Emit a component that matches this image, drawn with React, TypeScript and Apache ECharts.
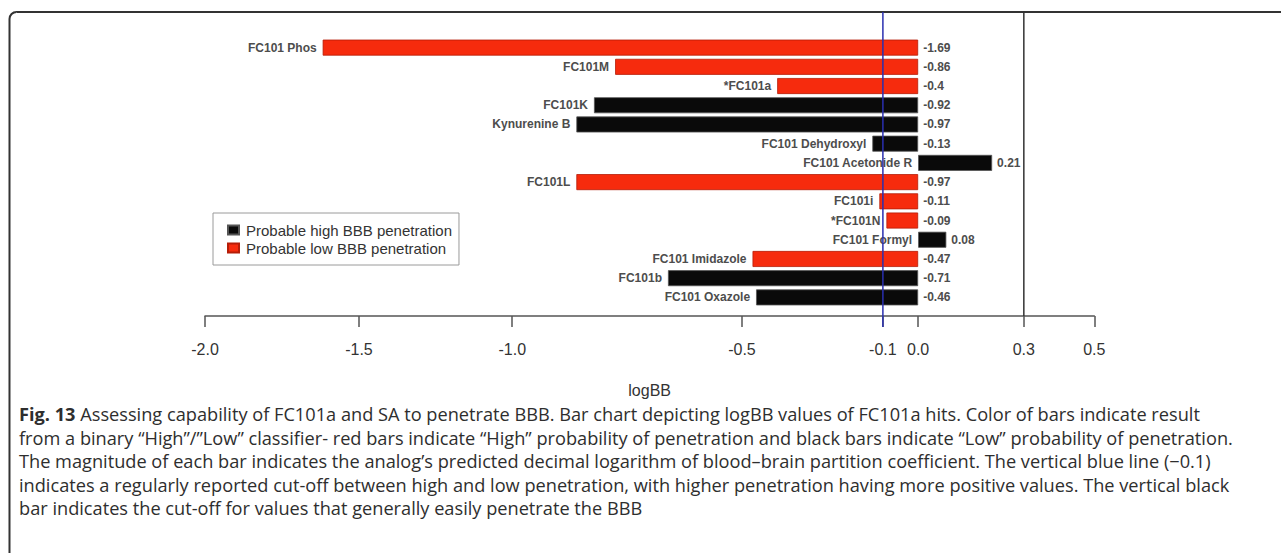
import { useEffect, useRef } from "react";
import * as echarts from "echarts";

// Predicted logBB per FC101a analog, top to bottom
const compounds = [
  "FC101 Phos",
  "FC101M",
  "*FC101a",
  "FC101K",
  "Kynurenine B",
  "FC101 Dehydroxyl",
  "FC101 Acetonide R",
  "FC101L",
  "FC101i",
  "*FC101N",
  "FC101 Formyl",
  "FC101 Imidazole",
  "FC101b",
  "FC101 Oxazole",
];
const logBB = [-1.69, -0.86, -0.4, -0.92, -0.97, -0.13, 0.21, -0.97, -0.11, -0.09, 0.08, -0.47, -0.71, -0.46];
const penetrationClass = [
  "low", "low", "low", "high", "high", "high", "high",
  "low", "low", "low", "high", "low", "high", "high",
];

// Axis ticks as printed on the figure
const tickValues = [-2.024, -1.587, -1.152, -0.5, -0.1, 0, 0.3, 0.5];
const tickLabels = ["-2.0", "-1.5", "-1.0", "-0.5", "-0.1", "0.0", "0.3", "0.5"];

// Cut-off lines: regularly reported (blue) and easy penetration (black)
const cutoffValues = [-0.1, 0.3];
const cutoffColors = ["#2a2fb0", "#333333"];

const seriesNames = ["Probable high BBB penetration", "Probable low BBB penetration"];

const captionLines = [
  "{b|Fig. 13} Assessing capability of FC101a and SA to penetrate BBB. Bar chart depicting logBB values of FC101a hits. Color of bars indicate result",
  "from a binary “High”/”Low” classifier- red bars indicate “High” probability of penetration and black bars indicate “Low” probability of penetration.",
  "The magnitude of each bar indicates the analog’s predicted decimal logarithm of blood–brain partition coefficient. The vertical blue line (−0.1)",
  "indicates a regularly reported cut-off between high and low penetration, with higher penetration having more positive values. The vertical black",
  "bar indicates the cut-off for values that generally easily penetrate the BBB",
];

const SANS = "'Liberation Sans', Arial, sans-serif";
const CAPTION_FONT = "'Open Sans', 'Noto Sans', sans-serif";
const RED = "#f62b0d";
const BLACK = "#0a0a0a";

const GRID_TOP = 38;
const GRID_BOTTOM_Y = 307;
const AXIS_OFFSET = 9;
const FRAME_TOP = 12;

export default function App() {
  const ref = useRef<HTMLDivElement>(null);

  useEffect(() => {
    if (!ref.current) return;
    const chart = echarts.init(ref.current, undefined, { renderer: "svg" });

    const barLabelName = {
      show: true,
      position: "left" as const,
      distance: 6,
      formatter: (p: any) => compounds[p.dataIndex],
      fontFamily: SANS,
      fontWeight: "bold" as const,
      fontSize: 12,
      color: "#4d4d4d",
    };

    const option: any = {
      animation: false,
      backgroundColor: "#ffffff",
      grid: {
        left: 205,
        right: 1281 - 1094.3,
        top: GRID_TOP,
        bottom: 553 - GRID_BOTTOM_Y,
        containLabel: false,
      },
      legend: {
        data: seriesNames,
        orient: "vertical",
        left: 213,
        top: 213,
        padding: [9, 7, 9, 14],
        itemWidth: 11,
        itemHeight: 9,
        itemGap: 2,
        icon: "rect",
        borderColor: "#9a9a9a",
        borderWidth: 1,
        backgroundColor: "#ffffff",
        textStyle: {
          fontFamily: SANS,
          fontSize: 15,
          color: "#333",
          lineHeight: 16,
          padding: [0, 0, 0, 2],
        },
      },
      xAxis: {
        type: "value",
        min: tickValues[0],
        max: tickValues[tickValues.length - 1],
        offset: AXIS_OFFSET,
        name: "logBB",
        nameLocation: "middle",
        nameGap: 66,
        nameTextStyle: { fontFamily: SANS, fontSize: 16, color: "#333" },
        axisLine: { show: true, lineStyle: { color: "#555", width: 1.5 } },
        axisTick: {
          show: true,
          length: 11,
          customValues: tickValues,
          lineStyle: { color: "#555", width: 1.5 },
        },
        axisLabel: {
          customValues: tickValues,
          margin: 25,
          fontFamily: SANS,
          fontSize: 16,
          color: "#333",
          formatter: (v: number) => {
            let best = 0;
            tickValues.forEach((t, i) => {
              if (Math.abs(t - v) < Math.abs(tickValues[best] - v)) best = i;
            });
            return tickLabels[best];
          },
        },
        splitLine: { show: false },
      },
      yAxis: {
        type: "category",
        data: compounds,
        inverse: true,
        axisLine: { show: false },
        axisTick: { show: false },
        axisLabel: { show: false },
      },
      series: [
        {
          name: seriesNames[0],
          type: "bar",
          barWidth: 16,
          barGap: "-100%",
          data: logBB.map((v, i) => (penetrationClass[i] === "high" ? v : "-")),
          itemStyle: { color: BLACK, borderColor: "#555", borderWidth: 0.8 },
          label: barLabelName,
        },
        {
          name: seriesNames[1],
          type: "bar",
          barWidth: 16,
          barGap: "-100%",
          data: logBB.map((v, i) => (penetrationClass[i] === "low" ? v : "-")),
          itemStyle: { color: RED, borderColor: "#b51d08", borderWidth: 0.8 },
          label: barLabelName,
        },
        {
          name: "values",
          type: "bar",
          barWidth: 16,
          barGap: "-100%",
          silent: true,
          data: logBB,
          itemStyle: { color: "rgba(0,0,0,0)" },
          label: {
            show: true,
            position: "right",
            distance: 5,
            formatter: (p: any) => String(p.value),
            fontFamily: SANS,
            fontWeight: "bold",
            fontSize: 12,
            color: "#4d4d4d",
          },
        },
      ],
    };

    chart.setOption(option);

    // Cut-off lines run from the frame edge down to the value axis
    const axisY = GRID_BOTTOM_Y + AXIS_OFFSET;
    const cutoffLines = cutoffValues.map((v, i) => {
      const x = chart.convertToPixel({ xAxisIndex: 0 }, v) as number;
      return {
        type: "line",
        z: 10,
        shape: { x1: x, y1: FRAME_TOP, x2: x, y2: axisY + (i === 0 ? 11 : 0) },
        style: { stroke: cutoffColors[i], lineWidth: 1.5 },
      };
    });

    const caption = captionLines.map((line, i) => ({
      type: "text",
      z: 10,
      x: 19,
      y: 414 + i * 23.6,
      style: {
        text: line,
        fontFamily: CAPTION_FONT,
        fontSize: 18.2,
        fill: "#2e2e2e",
        verticalAlign: "middle",
        rich: {
          b: {
            fontFamily: CAPTION_FONT,
            fontSize: 18.2,
            fontWeight: "bold",
            fill: "#2e2e2e",
          },
        },
      },
    }));

    chart.setOption({
      graphic: [
        {
          type: "rect",
          z: 10,
          shape: { x: 9.5, y: FRAME_TOP, width: 1400, height: 700, r: 7 },
          style: { fill: "none", stroke: "#333", lineWidth: 2 },
        },
        ...cutoffLines,
        ...caption,
      ],
    });

    return () => chart.dispose();
  }, []);

  return (
    <div
      ref={ref}
      style={{ position: "fixed", left: 0, top: 0, width: 1281, height: 553, background: "#fff" }}
    />
  );
}
